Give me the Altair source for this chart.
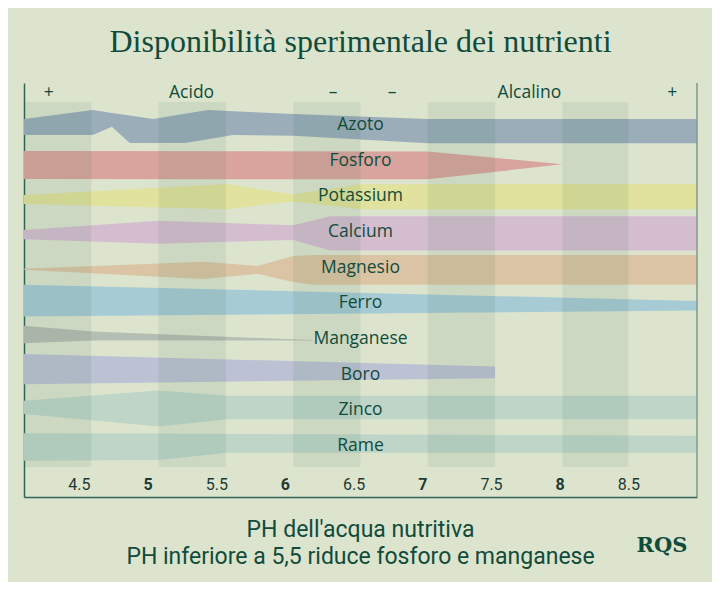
import altair as alt
import pandas as pd

# ---------------- data ----------------
title_text = "Disponibilità sperimentale dei nutrienti"
subtitle_lines = ["PH dell'acqua nutritiva", "PH inferiore a 5,5 riduce fosforo e manganese"]
logo_text = "RQS"

nutrients = ["Azoto", "Fosforo", "Potassium", "Calcium", "Magnesio",
             "Ferro", "Manganese", "Boro", "Zinco", "Rame"]
band_colors = ["#9aadb9", "#d9a49e", "#e0e29d", "#d5bdd0", "#dac4a4",
               "#a7cbd4", "#b5beb3", "#bcc2d4", "#bed5c7", "#bed5c7"]

# band outlines: pH positions, upper and lower edge (offset from the row centre, row units, + = down)
band_ph = {
    "Azoto":     [4.10, 4.60, 4.74, 4.87, 5.04, 5.27, 5.44, 5.62, 6.06, 7.04, 9.00],
    "Fosforo":   [4.10, 7.04, 8.02],
    "Potassium": [4.10, 5.58, 6.06, 6.55, 9.00],
    "Calcium":   [4.10, 5.08, 6.06, 6.33, 9.00],
    "Magnesio":  [4.10, 5.40, 5.80, 6.06, 6.20, 9.00],
    "Ferro":     [4.10, 9.00],
    "Manganese": [4.10, 4.60, 6.20],
    "Boro":      [4.10, 7.53],
    "Zinco":     [4.10, 5.08, 5.58, 9.00],
    "Rame":      [4.10, 5.08, 5.58, 9.00],
}
band_upper = {
    "Azoto":     [-0.17, -0.42, -0.34, -0.27, -0.17, -0.32, -0.42, -0.39, -0.31, -0.17, -0.17],
    "Fosforo":   [-0.27, -0.26, 0.10],
    "Potassium": [-0.04, -0.35, -0.05, -0.34, -0.35],
    "Calcium":   [-0.06, -0.32, -0.19, -0.44, -0.44],
    "Magnesio":  [0.03, -0.17, -0.05, -0.33, -0.36, -0.36],
    "Ferro":     [-0.52, -0.07],
    "Manganese": [-0.37, -0.21, 0.03],
    "Boro":      [-0.58, -0.23],
    "Zinco":     [-0.27, -0.56, -0.41, -0.41],
    "Rame":      [-0.36, -0.35, -0.34, -0.29],
}
band_lower = {
    "Azoto":     [0.28, 0.28, 0.05, 0.50, 0.50, 0.50, 0.40, 0.28, 0.30, 0.51, 0.51],
    "Fosforo":   [0.51, 0.52, 0.10],
    "Potassium": [0.21, 0.36, 0.14, 0.36, 0.36],
    "Calcium":   [0.20, 0.33, 0.22, 0.52, 0.52],
    "Magnesio":  [0.06, 0.32, 0.17, 0.40, 0.48, 0.48],
    "Ferro":     [0.37, 0.20],
    "Manganese": [0.12, 0.04, 0.04],
    "Boro":      [0.27, 0.10],
    "Zinco":     [0.10, 0.45, 0.25, 0.25],
    "Rame":      [0.41, 0.39, 0.19, 0.19],
}

# shaded pH columns
column_start = [4.10, 5.08, 6.06, 7.04, 8.02]
column_end = [4.59, 5.57, 6.55, 7.53, 8.50]

# x tick labels
tick_values = [4.5, 5, 5.5, 6, 6.5, 7, 7.5, 8, 8.5]

# header labels along the top
header_text = ["+", "Acido", "–", "–", "Alcalino", "+"]
header_ph = [4.28, 5.32, 6.35, 6.78, 7.78, 8.82]

# ---------------- styling ----------------
BG = "#dce4ce"
INK = "#114b3b"
FRAME = "#2f6656"

W, H = 673, 414

rows = []
for i, n in enumerate(nutrients):
    for p, u, l in zip(band_ph[n], band_upper[n], band_lower[n]):
        rows.append({"nutriente": n, "ph": p, "top": i + u, "bottom": i + l})
bands_df = pd.DataFrame(rows)

cols_df = pd.DataFrame({"x0": column_start, "x1": column_end})
labels_df = pd.DataFrame({"nutriente": nutrients, "row": list(range(len(nutrients)))})
header_df = pd.DataFrame({"txt": header_text, "ph": header_ph})

xs = alt.Scale(domain=[4.1, 9.0], nice=False, zero=False)
ys = alt.Scale(domain=[-1.18, 10.43], reverse=True, nice=False, zero=False)

xaxis = alt.Axis(
    values=tick_values, title=None, ticks=False, grid=False, format=".1~f",
    domainColor=FRAME, domainWidth=1.5,
    labelFont="Roboto", labelFontSize=16, labelColor="#1e3a32",
    labelPadding=-13, labelBaseline="middle", labelOverlap=False, labelFlush=False,
    labelFontWeight={"condition": {"test": "datum.value % 1 === 0", "value": "bold"}, "value": "normal"},
)
yaxis = alt.Axis(title=None, labels=False, ticks=False, grid=False,
                 domainColor=FRAME, domainWidth=1.5)

bands = alt.Chart(bands_df).mark_area(interpolate="linear").encode(
    x=alt.X("ph:Q", scale=xs, axis=xaxis),
    y=alt.Y("top:Q", scale=ys, axis=yaxis, stack=False),
    y2="bottom:Q",
    color=alt.Color("nutriente:N", scale=alt.Scale(domain=nutrients, range=band_colors), legend=None),
    detail="nutriente:N",
)

columns = alt.Chart(cols_df).mark_rect(color="#2a6440", opacity=0.09).encode(
    x=alt.X("x0:Q", scale=xs, axis=xaxis),
    x2="x1:Q",
    y=alt.value(19),
    y2=alt.value(384),
)

row_labels = alt.Chart(labels_df).mark_text(
    font="Open Sans", fontSize=17.5, fontWeight=500, color=INK, baseline="middle", align="center"
).encode(
    x=alt.value(W / 2),
    y=alt.Y("row:Q", scale=ys, axis=yaxis),
    text="nutriente:N",
)

header = alt.Chart(header_df).mark_text(
    font="Open Sans", fontSize=17.5, fontWeight=500, color=INK, baseline="middle", align="center"
).encode(
    x=alt.X("ph:Q", scale=xs, axis=xaxis),
    y=alt.value(10),
    text="txt:N",
)

right_frame = alt.Chart(pd.DataFrame({"k": [0]})).mark_rule(color="#7f9a8c", strokeWidth=1.5).encode(
    x=alt.value(W), y=alt.value(0), y2=alt.value(H)
)

footer = alt.Chart(pd.DataFrame({"k": [0]})).mark_text(
    font="Roboto", fontSize=23, color=INK, align="center", baseline="alphabetic",
    lineBreak="\n", lineHeight=26.6,
).encode(
    x=alt.value(W / 2), y=alt.value(454), text=alt.value("\n".join(subtitle_lines))
)

logo = alt.Chart(pd.DataFrame({"k": [0]})).mark_text(
    font="DejaVu Serif", fontSize=21, fontWeight="bold", color=INK,
    align="center", baseline="alphabetic",
).encode(x=alt.value(638), y=alt.value(469), text=alt.value(logo_text))

chart = alt.layer(bands, columns, right_frame, row_labels, header, footer, logo).properties(
    width=W, height=H,
    title=alt.TitleParams(title_text, font="Liberation Serif", fontSize=32, color=INK,
                          fontWeight="normal", anchor="middle", baseline="alphabetic", offset=-2),
    autosize=alt.AutoSizeParams(type="none"),
    padding={"left": 16, "top": 75, "right": 15, "bottom": 85},
    background=BG,
).configure_view(strokeWidth=0)

chart.save("out.html", embed_options={"renderer": "svg", "actions": False})
